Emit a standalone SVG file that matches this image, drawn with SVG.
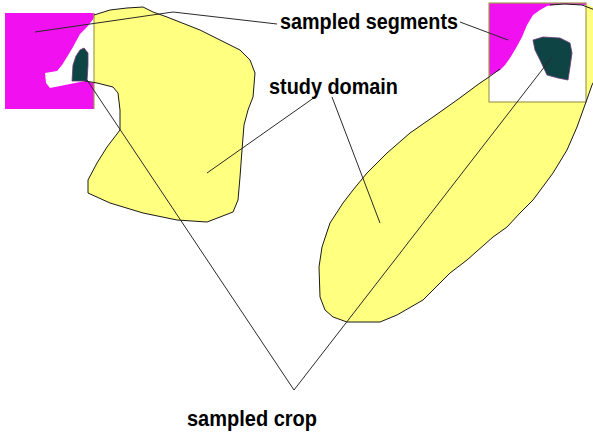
<svg xmlns="http://www.w3.org/2000/svg" width="593" height="435" viewBox="0 0 593 435">
<style>
.dom{fill:#ffff80;stroke:none}
.out{fill:none;stroke:#1a1a1a;stroke-width:1;stroke-linejoin:round}
.seg{fill:#f010f0;stroke:none}
.crop{fill:#0f4444;stroke:#6a3a7a;stroke-width:0.8}
.sq{fill:none;stroke:#a39c4e;stroke-width:1.2}
.lead{fill:none;stroke:#2a2a2a;stroke-width:1}
.lbl{font-family:"Liberation Sans",Arial,sans-serif;font-weight:bold;fill:#000;font-size:22px}
</style>
<rect width="593" height="435" fill="#fff"/>
<g id="left-domain">
<polygon class="dom" points="94,15 110,10 127,8 143,7 153,12 167,17 200,30 240,50 250,60 255,73 253,97 248,110 244,125 242,150 240,177 238,200 233,212 207,222 177,220 143,213 110,203 88,193 88,180 97,163 107,147 120,130 120,110 118,93 113,87 97,83 94,82"/>
<rect class="seg" x="5" y="13" width="89" height="96"/>
<polygon fill="#fff" points="94,18 87,27 80,34 73,47 67,57 62,65 57,71 45,73 46,83 50,88 85,81 94,83"/>
<polygon class="crop" points="72,81 73,65 76,56 80,50 84,48 88,53 88,65 87,81"/>
<line class="sq" x1="94" y1="13" x2="94" y2="109"/>
<polyline class="out" points="94,15 110,10 127,8 143,7 153,12 167,17 200,30 240,50 250,60 255,73 253,97 248,110 244,125 242,150 240,177 238,200 233,212 207,222 177,220 143,213 110,203 88,193 88,180 97,163 107,147 120,130 120,110 118,93 113,87 97,83 85,81"/>
</g>
<g id="right-domain">
<polygon class="dom" points="489,77 480,83 457,100 433,117 410,133 387,153 367,173 353,190 343,203 330,223 322,247 319,267 320,297 325,310 333,317 347,322 380,322 397,315 423,300 450,273 467,260 493,237 507,227 520,213 533,200 553,173 567,150 577,127 586,102 592,85 600,70 600,10 586,4 489,4"/>
<rect x="489" y="3" width="97" height="99" fill="#fff"/>
<polygon class="seg" points="489,3 586,3 586,5 560,4 547,6 540,10 533,15 527,25 522,37 516,48 510,58 505,65 500,70 489,76"/>
<polygon class="crop" points="533,40 543,37 560,38 570,43 572,53 570,67 568,80 558,78 547,75 540,60 535,50"/>
<rect class="sq" x="489" y="3" width="97" height="99"/>
<polyline class="out" points="500,69 489,77 480,83 457,100 433,117 410,133 387,153 367,173 353,190 343,203 330,223 322,247 319,267 320,297 325,310 333,317 347,322 380,322 397,315 423,300 450,273 467,260 493,237 507,227 520,213 533,200 553,173 567,150 577,127 586,102 592,85 600,70"/>
<polyline class="out" points="550,5 565,4 582,5 595,10"/>
</g>
<g id="connectors">
<polyline class="lead" points="277,24 173,12 35,32"/>
<line class="lead" x1="460" y1="22" x2="508" y2="40"/>
<line class="lead" x1="315" y1="97" x2="207" y2="173"/>
<line class="lead" x1="332" y1="97" x2="380" y2="223"/>
<polyline class="lead" points="87,80 294,390 552,57"/>
</g>
<g id="label-segments"><text class="lbl" x="280" y="29" textLength="178" lengthAdjust="spacingAndGlyphs">sampled segments</text></g>
<g id="label-domain"><text class="lbl" x="269" y="94" textLength="129" lengthAdjust="spacingAndGlyphs">study domain</text></g>
<g id="label-crop"><text class="lbl" x="187" y="426" textLength="130" lengthAdjust="spacingAndGlyphs">sampled crop</text></g>
</svg>
